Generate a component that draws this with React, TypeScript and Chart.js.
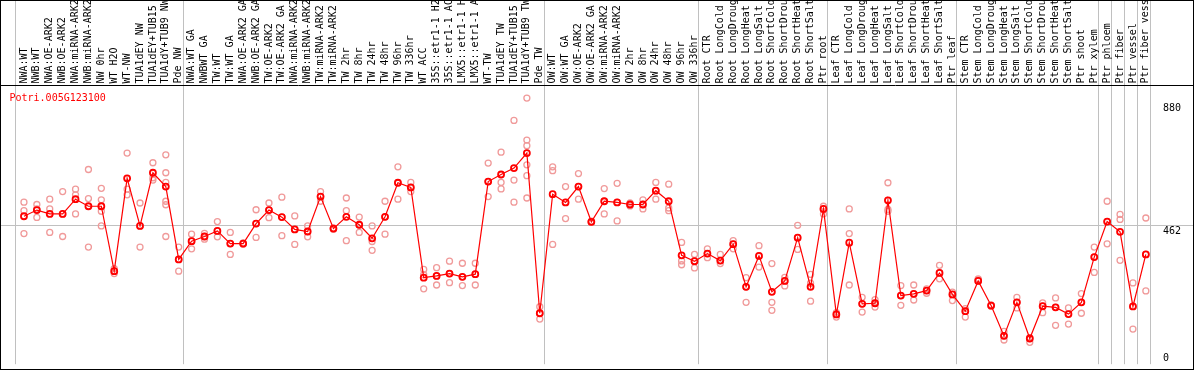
import React, { useEffect, useRef } from 'react';
import { Chart, registerables } from 'chart.js';

Chart.register(...registerables);

const geneName = 'Potri.005G123100';

const categories = [
  'NWA:WT', 'NWB:WT', 'NWA:OE-ARK2', 'NWB:OE-ARK2', 'NWA:miRNA-ARK2', 'NWB:miRNA-ARK2', 'NW 0hr', 'WT H2O', 'WT-NW',
  'TUA1dEY NW', 'TUA1dEY+TUB15', 'TUA1dY+TUB9 NW', 'Pde NW',
  'NWA:WT GA', 'NWBWT GA', 'TW:WT', 'TW:WT GA', 'NWA:OE-ARK2 GA', 'NWB:OE-ARK2 GA', 'TW:OE-ARK2', 'TW:OE-ARK2 GA',
  'NWA:miRNA-ARK2', 'NWB:miRNA-ARK2', 'TW:miRNA-ARK2', 'TW:miRNA-ARK2', 'TW 2hr', 'TW 8hr', 'TW 24hr', 'TW 48hr',
  'TW 96hr', 'TW 336hr', 'WT ACC', '35S::etr1-1 H2', '35S::etr1-1 AC', 'LMX5::etr1-1 H', 'LMX5::etr1-1 A', 'WT-TW',
  'TUA1dEY TW', 'TUA1dEY+TUB15', 'TUA1dY+TUB9 TW', 'Pde TW',
  'OW:WT', 'OW:WT GA', 'OW:OE-ARK2', 'OW:OE-ARK2 GA', 'OW:miRNA-ARK2', 'OW:miRNA-ARK2', 'OW 2hr', 'OW 8hr', 'OW 24hr',
  'OW 48hr', 'OW 96hr', 'OW 336hr',
  'Root CTR', 'Root LongCold', 'Root LongDroug', 'Root LongHeat', 'Root LongSalt', 'Root ShortCold', 'Root ShortDrou',
  'Root ShortHeat', 'Root ShortSalt', 'Ptr root',
  'Leaf CTR', 'Leaf LongCold', 'Leaf LongDroug', 'Leaf LongHeat', 'Leaf LongSalt', 'Leaf ShortCold', 'Leaf ShortDrou',
  'Leaf ShortHeat', 'Leaf ShortSalt', 'Ptr leaf',
  'Stem CTR', 'Stem LongCold', 'Stem LongDroug', 'Stem LongHeat', 'Stem LongSalt', 'Stem ShortCold', 'Stem ShortDrou',
  'Stem ShortHeat', 'Stem ShortSalt', 'Ptr shoot', 'Ptr xylem',
  'Ptr phloem', 'Ptr fiber', 'Ptr vessel', 'Ptr fiber vess',
];

const meanValues = [
  495, 516, 503, 503, 553, 529, 529, 308, 624, 462, 643, 596, 348,
  410, 426, 445, 402, 402, 470, 516, 492, 450, 443, 562, 453, 493, 466, 420, 493, 609, 593,
  286, 292, 300, 289, 298, 613, 637, 659, 710, 165,
  570, 542, 596, 476, 546, 542, 535, 535, 582, 546, 362, 342,
  368, 344, 400, 255, 360, 238, 275, 422, 255, 520,
  161, 405, 197, 199, 549, 225, 231, 242, 302, 229,
  172, 275, 191, 88, 202, 79, 189, 185, 162, 202, 356,
  477, 442, 188, 365,
];

const replicateValues = [
  [543, 514, 436], [535, 491, 520], [553, 520, 440], [579, 426, 503], [587, 568, 503], [654, 555, 390],
  [590, 551, 512, 462], [317, 300, 308], [710, 587, 568], [540, 390, 462], [677, 626, 618],
  [704, 643, 610, 546, 534, 426], [390, 308, 348],
  [434, 384, 410], [437, 417, 426], [477, 425, 445], [440, 365, 402], [400, 404, 402], [517, 423, 470],
  [540, 490, 516], [560, 429, 492], [496, 399, 450], [462, 425, 443], [579, 546, 562], [453, 455, 451],
  [557, 514, 412], [492, 440, 466], [462, 409, 379], [546, 434, 493], [663, 553, 609], [610, 579, 593],
  [314, 248, 296], [320, 261, 292], [342, 269, 300], [335, 259, 289], [335, 261, 298], [676, 562, 613],
  [713, 610, 588], [821, 618, 543], [897, 754, 735, 670, 633, 557], [187, 145, 165],
  [663, 650, 399], [596, 487, 542], [640, 553, 596], [476, 478, 474], [589, 503, 546], [607, 479, 542],
  [540, 530, 535], [551, 520, 535], [610, 553, 582], [604, 523, 514], [406, 343, 330], [365, 319, 342],
  [384, 354, 368], [365, 334, 344], [412, 384, 400], [286, 202, 255], [395, 322, 360], [334, 202, 175],
  [287, 258, 275], [464, 382, 422], [297, 267, 206], [529, 503, 520],
  [167, 152, 161], [520, 436, 261], [219, 169, 197], [211, 186, 199], [609, 518, 512], [259, 192, 225],
  [261, 210, 231], [248, 233, 242], [328, 282, 302], [237, 208, 229],
  [181, 152, 172], [282, 275, 278], [191, 193, 189], [103, 74, 88], [219, 183, 202], [66, 79, 82],
  [200, 167, 189], [217, 124, 185], [183, 128, 162], [232, 165, 202], [390, 304, 356],
  [546, 401, 477], [501, 484, 345], [268, 111, 188], [489, 241, 365],
];

// indices where a new sample group starts (grey separators)
const groupStarts = [0, 13, 41, 53, 63, 73, 84, 85, 86, 87, 88];
const yTickValues = [0, 462, 880];
const gridValue = 462;

const FONT = '10px "DejaVu Sans Mono", monospace';

export default function App() {
  const ref = useRef<HTMLCanvasElement>(null);

  useEffect(() => {
    document.body.style.margin = '0';
    const canvas = ref.current;
    if (!canvas) return;

    const meanPoints = meanValues.map((v, i) => ({ x: i, y: v }));
    const repPoints = replicateValues.flatMap((arr, i) => arr.map((v) => ({ x: i, y: v })));

    const decor = {
      id: 'decor',
      beforeDatasetsDraw(chart: any) {
        const { ctx, scales, chartArea } = chart;
        const x = scales.x;
        const y = scales.y;
        ctx.save();
        ctx.strokeStyle = '#c0c0c0';
        ctx.lineWidth = 1;
        groupStarts.forEach((b) => {
          const px = Math.floor(x.getPixelForValue(b - 0.66)) + 0.5;
          ctx.beginPath();
          ctx.moveTo(px, 0);
          ctx.lineTo(px, chartArea.bottom);
          ctx.stroke();
        });
        const gy = Math.floor(y.getPixelForValue(gridValue)) + 0.5;
        ctx.beginPath();
        ctx.moveTo(0, gy);
        ctx.lineTo(chart.width, gy);
        ctx.stroke();
        ctx.restore();
      },
      afterDatasetsDraw(chart: any) {
        const { ctx, scales, chartArea } = chart;
        const x = scales.x;
        const y = scales.y;
        ctx.save();
        // borders
        ctx.strokeStyle = '#000';
        ctx.lineWidth = 1;
        ctx.strokeRect(0.5, 0.5, chart.width - 1, chart.height - 1);
        ctx.beginPath();
        ctx.moveTo(0, Math.floor(chartArea.top) + 0.5);
        ctx.lineTo(chart.width, Math.floor(chartArea.top) + 0.5);
        ctx.stroke();

        // category labels (rotated)
        ctx.font = FONT;
        ctx.fillStyle = '#000';
        ctx.textAlign = 'left';
        ctx.textBaseline = 'middle';
        categories.forEach((lab, i) => {
          const px = x.getPixelForValue(i);
          ctx.save();
          ctx.translate(px, chartArea.top - 1.5);
          ctx.rotate(-Math.PI / 2);
          ctx.fillText(lab, 0, 0);
          ctx.restore();
        });

        // gene title
        ctx.fillStyle = '#ff0000';
        ctx.textBaseline = 'alphabetic';
        ctx.fillText(geneName, 9.5, 101);

        // y tick labels
        ctx.fillStyle = '#000';
        yTickValues.forEach((v) => {
          const py = y.getPixelForValue(v);
          const base = Math.min(py + 7.7, chartArea.bottom - 3);
          ctx.fillText(String(v), 1163, base);
        });
        ctx.restore();
      },
    };

    const chart = new Chart(canvas, {
      type: 'scatter',
      data: {
        datasets: [
          {
            data: meanPoints,
            showLine: true,
            borderColor: '#ff0000',
            borderWidth: 1.2,
            pointRadius: 3,
            pointBorderWidth: 1.8,
            pointBorderColor: '#ff0000',
            pointBackgroundColor: 'rgba(255,255,255,0)',
          },
          {
            data: repPoints,
            showLine: false,
            pointRadius: 3,
            pointBorderWidth: 1.3,
            pointBorderColor: '#f09a9a',
            pointBackgroundColor: 'rgba(255,255,255,0)',
          },
        ],
      },
      options: {
        responsive: false,
        animation: false,
        events: [],
        layout: { padding: { top: 85, left: 1, right: 1, bottom: 1 } },
        plugins: { legend: { display: false }, tooltip: { enabled: false } },
        scales: {
          x: { type: 'linear', display: false, min: -1.408, max: 90.285 },
          y: { type: 'linear', display: false, min: -8.4, max: 941.5 },
        },
      },
      plugins: [decor],
    });

    return () => chart.destroy();
  }, []);

  return (
    <div style={{ position: 'absolute', left: 0, top: 0, width: 1194, height: 370, background: '#fff' }}>
      <canvas ref={ref} width={1194} height={370} />
    </div>
  );
}
